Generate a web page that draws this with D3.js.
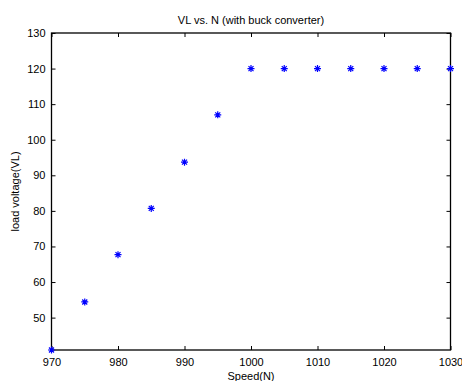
<!DOCTYPE html>
<html>
<head>
<meta charset="utf-8">
<script src="https://cdn.jsdelivr.net/npm/d3@7"></script>
<style>
  body { margin: 0; background: #fff; }
  text { font-family: "Liberation Sans", Arial, sans-serif; }
</style>
</head>
<body>
<div id="container"></div>
<script>
let w = 462;
let h = 381;

// chart data
let speeds = [970, 975, 980, 985, 990, 995, 1000, 1005, 1010, 1015, 1020, 1025, 1030];
let voltages = [40.9, 54.4, 67.7, 80.7, 93.7, 107.0, 120, 120, 120, 120, 120, 120, 120];
let xTicks = [970, 980, 990, 1000, 1010, 1020, 1030];
let yTicks = [50, 60, 70, 80, 90, 100, 110, 120, 130];

let plotL = 51.5, plotR = 450.5, plotT = 33, plotB = 350;

let viz = d3.select("#container")
  .append("svg")
    .attr("width", w)
    .attr("height", h)
    .style("background-color", "white");

let xScale = d3.scaleLinear().domain([970, 1030]).range([plotL, plotR]);
let yScale = d3.scaleLinear().domain([40.9, 130]).range([plotB, plotT]);

// inward ticks on all four sides, like matlab
let tickLen = 4;
viz.append("g")
    .attr("transform", "translate(0," + plotB + ")")
    .call(d3.axisBottom(xScale).tickValues(xTicks).tickFormat(d3.format("d"))
      .tickSizeInner(-tickLen).tickSizeOuter(0).tickPadding(8))
    .call(g => g.select(".domain").remove());
viz.append("g")
    .attr("transform", "translate(0," + plotT + ")")
    .call(d3.axisTop(xScale).tickValues(xTicks).tickSizeInner(-tickLen).tickSizeOuter(0).tickFormat(""))
    .call(g => g.select(".domain").remove());
viz.append("g")
    .attr("transform", "translate(" + plotL + ",0)")
    .call(d3.axisLeft(yScale).tickValues(yTicks).tickFormat(d3.format("d"))
      .tickSizeInner(-tickLen).tickSizeOuter(0).tickPadding(6))
    .call(g => g.select(".domain").remove());
viz.append("g")
    .attr("transform", "translate(" + plotR + ",0)")
    .call(d3.axisRight(yScale).tickValues(yTicks).tickSizeInner(-tickLen).tickSizeOuter(0).tickFormat(""))
    .call(g => g.select(".domain").remove());

viz.selectAll(".tick text")
    .style("font-size", "11px")
    .style("fill", "#000");
viz.selectAll(".tick line").attr("stroke", "#000");

viz.append("rect")
    .attr("x", plotL)
    .attr("y", plotT)
    .attr("width", plotR - plotL)
    .attr("height", plotB - plotT)
    .attr("fill", "none")
    .attr("stroke", "#000")
    .attr("stroke-width", 1.3);

// star markers
let star = "M-3.5,0L3.5,0M0,-3.5L0,3.5M-2.5,-2.5L2.5,2.5M-2.5,2.5L2.5,-2.5";
viz.selectAll(".pt").data(speeds).enter()
  .append("path")
    .classed("pt", true)
    .attr("d", star)
    .attr("transform", (d, i) => "translate(" + xScale(d) + "," + yScale(voltages[i]) + ")")
    .attr("stroke", "#0000ff")
    .attr("stroke-width", 1.2)
    .attr("fill", "none");

viz.append("text")
    .attr("x", (plotL + plotR) / 2)
    .attr("y", 24)
    .attr("text-anchor", "middle")
    .style("font-size", "11px")
    .text("VL vs. N (with buck converter)");

viz.append("text")
    .attr("x", (plotL + plotR) / 2)
    .attr("y", 380)
    .attr("text-anchor", "middle")
    .style("font-size", "11px")
    .text("Speed(N)");

viz.append("text")
    .attr("transform", "translate(19," + ((plotT + plotB) / 2) + ") rotate(-90)")
    .attr("text-anchor", "middle")
    .style("font-size", "11px")
    .text("load voltage(VL)");
</script>
</body>
</html>
